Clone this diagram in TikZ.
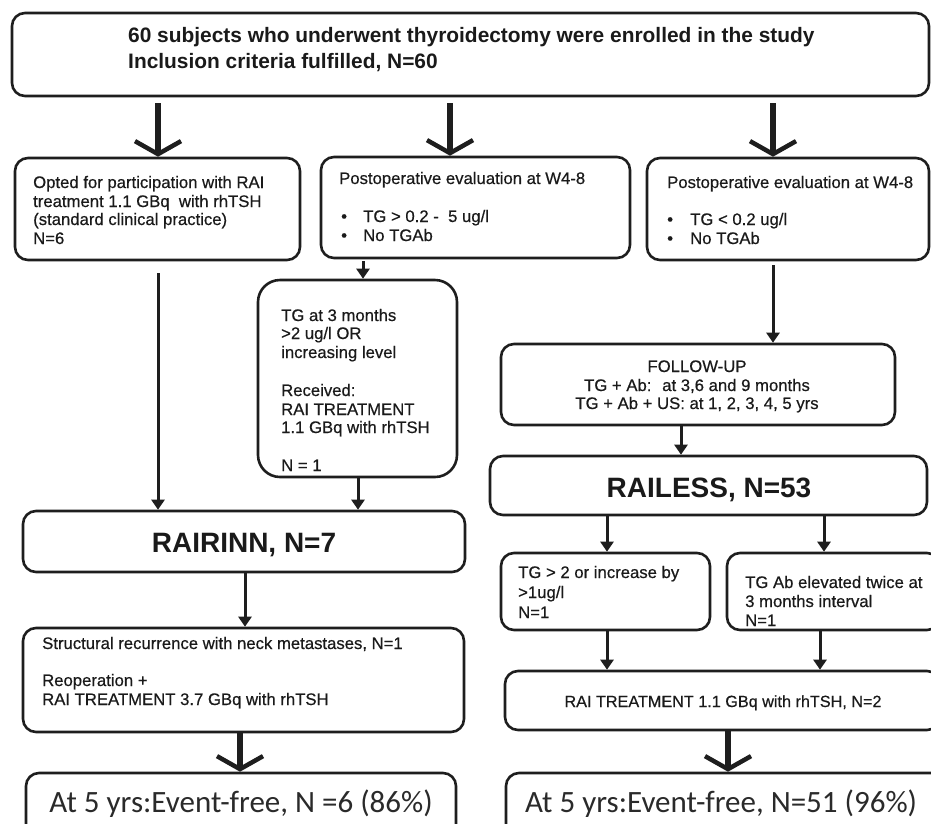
\documentclass[tikz,border=0pt]{standalone}
\usepackage{fontspec}
\setmainfont{Liberation Sans}
\newfontfamily\medfont[FakeBold=0.5]{Liberation Sans}
\newfontfamily\calib{Carlito}
\usetikzlibrary{arrows.meta,fit,calc}
\definecolor{lc}{HTML}{1E1E1E}
\definecolor{tc}{HTML}{1A1A1A}
\definecolor{bc}{HTML}{2A2A2A}
\begin{document}
\begin{tikzpicture}[x=1pt,y=-1pt,
  box/.style={draw=lc, line width=2.6pt, rounded corners=13pt, inner sep=0pt},
  txt/.style={inner sep=0pt, anchor=base west, text=tc, font=\medfont\fontsize{16.7}{20}\selectfont},
  ctxt/.style={txt, anchor=base},
  ttl/.style={inner sep=0pt, anchor=base west, text=tc, font=\bfseries\fontsize{20.9}{24}\selectfont},
  big/.style={inner sep=0pt, anchor=base, text=tc, font=\bfseries\fontsize{28}{32}\selectfont},
  res/.style={inner sep=0pt, anchor=base, text=bc, font=\calib\fontsize{31}{36}\selectfont},
  arr/.style={draw=lc, line width=3pt, -{Triangle[width=13pt,length=10pt]}},
  bigarr/.style={draw=lc, line width=6pt, -{Straight Barb[width=46pt,length=13pt,line width=4.5pt]}}
]
\useasboundingbox (0,0) rectangle (931,823);
\clip (0,0) rectangle (931,823);
\fill[white] (0,0) rectangle (931,823);

% boxes
\node[box, fit={(12,13) (929,96)}] (top) {};
\node[box, fit={(15,158) (300,260)}] (A) {};
\node[box, fit={(321,157) (630,258)}] (B) {};
\node[box, fit={(647,158) (929,260)}] (C) {};
\node[box, rounded corners=22pt, fit={(258,280) (457,477)}] (D) {};
\node[box, fit={(23,511) (465,572)}] (rr) {};
\node[box, fit={(23,628) (464,732)}] (S) {};
\node[box, fit={(26,773) (456,840)}] (BL) {};
\node[box, fit={(501,344) (895,425)}] (FU) {};
\node[box, fit={(490,456) (927,515)}] (RL) {};
\node[box, fit={(501,553) (710,630)}] (E) {};
\node[box, fit={(727,553) (940,630)}] (F) {};
\node[box, fit={(505,671) (940,730)}] (RAI) {};
\node[box, fit={(506,773) (945,840)}] (BR) {};

% texts
\node[ttl] (t1) at (128,42) {60 subjects who underwent thyroidectomy were enrolled in the study};
\node[ttl] (t2) at (128,68) {Inclusion criteria fulfilled, N=60};

\node[txt] (a1) at (33,188) {Opted for participation with RAI};
\node[txt] (a2) at (33,207) {treatment 1.1 GBq~ with rhTSH};
\node[txt] (a3) at (33,225) {(standard clinical practice)};
\node[txt] (a4) at (33,244) {N=6};

\node[txt] (b1) at (339,184) {Postoperative evaluation at W4-8};
\node[txt] (b2) at (341,222) {•};
\node[txt] (b3) at (363,222) {TG > 0.2 -~ 5 ug/l};
\node[txt] (b4) at (341,241) {•};
\node[txt] (b5) at (363,241) {No TGAb};

\node[txt] (c1) at (667,188) {Postoperative evaluation at W4-8};
\node[txt] (c2) at (667,225) {•};
\node[txt] (c3) at (690,225) {TG < 0.2 ug/l};
\node[txt] (c4) at (667,244) {•};
\node[txt] (c5) at (690,244) {No TGAb};

\node[txt] (d1) at (281,321) {TG at 3 months};
\node[txt] (d2) at (281,339) {>2 ug/l OR};
\node[txt] (d3) at (281,358) {increasing level};
\node[txt] (d4) at (281,396) {Received:};
\node[txt] (d5) at (281,415) {RAI TREATMENT};
\node[txt] (d6) at (281,433) {1.1 GBq with rhTSH};
\node[txt] (d7) at (281,471) {N = 1};

\node[big] (rrt) at (244,552) {RAIRINN, N=7};

\node[txt] (s1) at (42,649) {Structural recurrence with neck metastases, N=1};
\node[txt] (s2) at (42,686) {Reoperation +};
\node[txt] (s3) at (42,705) {RAI TREATMENT 3.7 GBq with rhTSH};

\node[res] (blt) at (241,812) {At 5 yrs:Event-free, N =6 (86\%)};

\node[ctxt] (f1) at (697,372) {FOLLOW-UP};
\node[ctxt] (f2) at (697,391) {TG + Ab:~ at 3,6 and 9 months};
\node[ctxt] (f3) at (697,409) {TG + Ab + US: at 1, 2, 3, 4, 5 yrs};

\node[big] (rlt) at (709,497) {RAILESS, N=53};

\node[txt] (e1) at (518,578) {TG > 2 or increase by};
\node[txt] (e2) at (518,598) {>1ug/l};
\node[txt] (e3) at (518,618) {N=1};

\node[txt] (g1) at (745,588) {TG Ab elevated twice at};
\node[txt] (g2) at (745,607) {3 months interval};
\node[txt] (g3) at (745,626) {N=1};

\node[ctxt, font=\medfont\fontsize{16.2}{20}\selectfont] (rait) at (723,707) {RAI TREATMENT 1.1 GBq with rhTSH, N=2};

\node[res] (brt) at (721,812) {At 5 yrs:Event-free, N=51 (96\%)};

% x positions of connectors
\coordinate (xa) at (158,0);
\coordinate (xb) at (450,0);
\coordinate (xc) at (773,0);
\coordinate (xd) at (363,0);
\coordinate (xe) at (358,0);
\coordinate (xf) at (245,0);
\coordinate (xg) at (681,0);
\coordinate (xh) at (607,0);
\coordinate (xi) at (824,0);
\coordinate (xj) at (820,0);
\coordinate (xk) at (240,0);
\coordinate (xl) at (728,0);

% connectors
\draw[bigarr] ($(top.south -| xa)+(0,6)$) -- (A.north -| xa);
\draw[bigarr] ($(top.south -| xb)+(0,6)$) -- (B.north -| xb);
\draw[bigarr] ($(top.south -| xc)+(0,6)$) -- (C.north -| xc);

\draw[arr] ($(A.south -| xa)+(0,12)$) -- (rr.north -| xa);
\draw[arr] ($(B.south -| xd)+(0,2)$) -- (D.north -| xd);
\draw[arr] (D.south -| xe) -- (rr.north -| xe);
\draw[arr] (rr.south -| xf) -- (S.north -| xf);
\draw[bigarr] (S.south -| xk) -- (BL.north -| xk);

\draw[arr] ($(C.south -| xc)+(0,4)$) -- (FU.north -| xc);
\draw[arr] (FU.south -| xg) -- (RL.north -| xg);
\draw[arr] (RL.south -| xh) -- (E.north -| xh);
\draw[arr] (RL.south -| xi) -- (F.north -| xi);
\draw[arr] (E.south -| xh) -- (RAI.north -| xh);
\draw[arr] (F.south -| xj) -- (RAI.north -| xj);
\draw[bigarr] (RAI.south -| xl) -- (BR.north -| xl);
\end{tikzpicture}
\end{document}
